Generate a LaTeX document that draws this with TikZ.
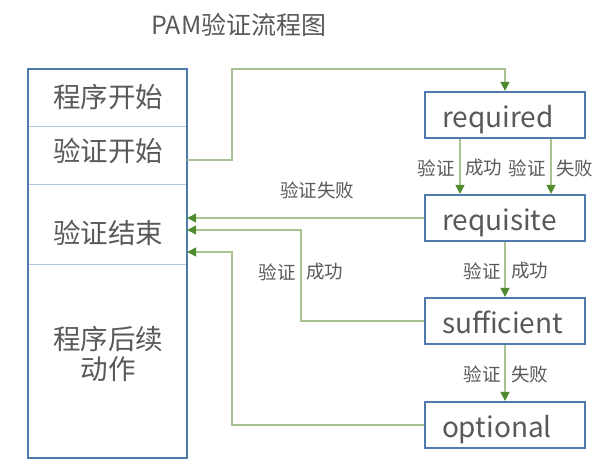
\documentclass[tikz,border=0pt]{standalone}
\usepackage{fontspec}
\setmainfont{Noto Sans CJK SC}
\usetikzlibrary{arrows.meta,calc}
\definecolor{boxblue}{HTML}{4F7AAC}
\definecolor{divblue}{HTML}{A9C8E8}
\definecolor{linegreen}{HTML}{A9C291}
\definecolor{tipgreen}{HTML}{4E8A2E}
\definecolor{txtgray}{HTML}{595959}
\tikzset{
  every node/.style={text=txtgray, inner sep=0pt},
  titletext/.style={font=\fontsize{25}{29}\selectfont},
  bigtext/.style={font=\fontsize{27.5}{30}\selectfont, align=center},
  lbl/.style={font=\fontsize{18.5}{20}\selectfont},
  modbox/.style={draw=boxblue, line width=2.2pt, text width=126pt, inner xsep=17pt, align=left, text height=29pt, text depth=5pt, minimum height=46pt, font=\fontsize{28}{30}\selectfont},
  rowbox/.style={minimum width=159pt},
  flow/.style={draw=linegreen, line width=1.3pt, -{Triangle[length=9pt,width=9pt,color=tipgreen]}},
}
\begin{document}
\begin{tikzpicture}[x=1pt,y=-1pt]
\useasboundingbox (0,0) rectangle (612,464);
\fill[white] (0,0) rectangle (612,464);
% title
\node[titletext] (title) at (239,25) {PAM验证流程图};
% left column rows
\node[rowbox, minimum height=57pt] (r1) at (107.5,97.5) {};
\node[rowbox, minimum height=58pt] (r2) at (107.5,155) {};
\node[rowbox, minimum height=80pt] (r3) at (107.5,224) {};
\node[rowbox, minimum height=194pt] (r4) at (107.5,361) {};
\draw[divblue, line width=1pt] (r1.south west) -- (r1.south east);
\draw[divblue, line width=1pt] (r2.south west) -- (r2.south east);
\draw[divblue, line width=1pt] (r3.south west) -- (r3.south east);
\draw[boxblue, line width=1.8pt] (r1.north west) rectangle (r4.south east);
\node[bigtext] (t1) at (108,97) {程序开始};
\node[bigtext] (t2) at (108,151) {验证开始};
\node[bigtext] (t3) at (108,233) {验证结束};
\node[bigtext] (t4) at (108,354) {程序后续\\动作};
% right modules
\node[modbox] (req) at (505,115) {required};
\node[modbox] (rqs) at (505,218) {requisite};
\node[modbox] (suf) at (505,321) {sufficient};
\node[modbox] (opt) at (505,425) {optional};
% start arrow
\coordinate (s0) at (r2.east |- 0,160);
\coordinate (k1) at (232,69);
\draw[flow] (s0) -| (k1) -| (req.north);
% required -> requisite
\coordinate (a1) at (460,0);
\coordinate (a2) at (551,0);
\draw[flow] (req.south -| a1) -- (rqs.north -| a1);
\draw[flow] (req.south -| a2) -- (rqs.north -| a2);
\node[lbl, anchor=east] (l1) at (455,168) {验证};
\node[lbl, anchor=west] (l2) at (465,168) {成功};
\node[lbl, anchor=east] (l3) at (546,168) {验证};
\node[lbl, anchor=west] (l4) at (556,168) {失败};
% requisite -> left (fail)
\draw[flow] (rqs.west) -- (rqs.west -| r3.east);
\node[lbl] (l5) at (317,190) {验证失败};
% requisite -> sufficient
\draw[flow] (rqs.south) -- (suf.north);
\node[lbl, anchor=east] (l6) at (501,271) {验证};
\node[lbl, anchor=west] (l7) at (511,271) {成功};
% sufficient -> left (success)
\coordinate (k2) at (301,230);
\draw[flow] (suf.west) -| (k2) -- (k2 -| r3.east);
\node[lbl, anchor=east] (l8) at (296,272) {验证};
\node[lbl, anchor=west] (l9) at (306,272) {成功};
% sufficient -> optional
\draw[flow] (suf.south) -- (opt.north);
\node[lbl, anchor=east] (l10) at (501,374) {验证};
\node[lbl, anchor=west] (l11) at (511,374) {失败};
% optional -> left
\coordinate (k3) at (232,252);
\draw[flow] (opt.west) -| (k3) -- (k3 -| r3.east);
\end{tikzpicture}
\end{document}
